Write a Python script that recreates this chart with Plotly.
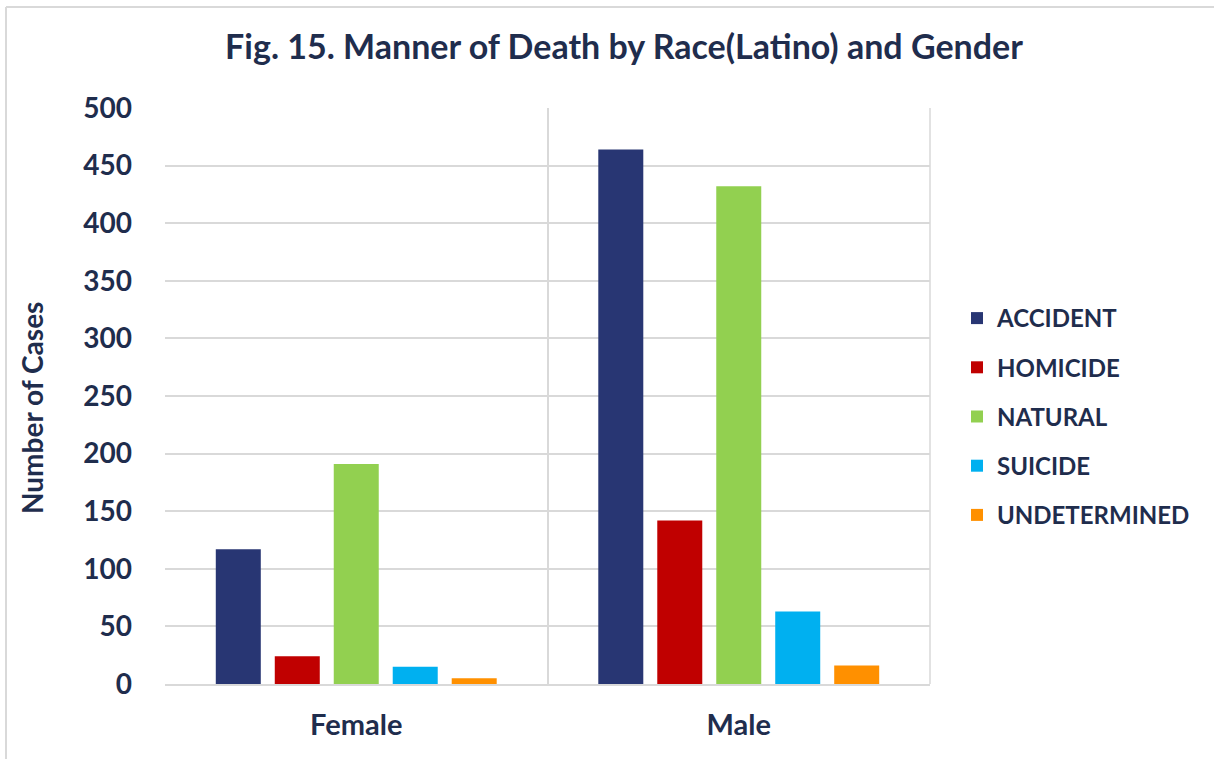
import plotly.graph_objects as go

categories = ["Female", "Male"]
series_names = ["ACCIDENT", "HOMICIDE", "NATURAL", "SUICIDE", "UNDETERMINED"]
accident = [117, 464]
homicide = [24, 142]
natural = [191, 432]
suicide = [15, 63]
undetermined = [5, 16]
y_ticks = [0, 50, 100, 150, 200, 250, 300, 350, 400, 450, 500]

colors = ["#283673", "#C00000", "#92D050", "#00B0F0", "#FF9000"]
series_values = [accident, homicide, natural, suicide, undetermined]

TXT = "#1F2D4D"
FONT = "Lato"

fig = go.Figure()
for name, vals, col in zip(series_names, series_values, colors):
    fig.add_trace(go.Bar(x=categories, y=vals, name=name, marker_color=col,
                         marker_line_width=0, legendgroup=name))

W, H = 1214, 759
L, R, T, B = 165, 284, 108, 75
pw, ph = W - L - R, H - T - B

def px_to_paper_x(x):
    return (x - L) / pw

def px_to_paper_y(y):
    return 1 - (y - T) / ph

fig.update_layout(
    width=W, height=H,
    margin=dict(l=L, r=R, t=T, b=B),
    paper_bgcolor="white", plot_bgcolor="white",
    barmode="group", bargap=0.229, bargroupgap=0.237,
    title=dict(text="Fig. 15. Manner of Death by Race(Latino) and Gender",
               x=px_to_paper_x(624), xref="paper", xanchor="center",
               y=1 - 47 / H, yanchor="middle",
               font=dict(family=FONT, size=34, color=TXT, weight="bold")),
    font=dict(family=FONT, color=TXT),
    legend=dict(x=px_to_paper_x(957), y=px_to_paper_y(296), xanchor="left", yanchor="top",
                font=dict(family=FONT, size=24, color=TXT, weight="bold"), itemwidth=30,
                tracegroupgap=15, traceorder="grouped"),
    showlegend=True,
    xaxis=dict(type="category", tickson="boundaries", showgrid=True, gridcolor="#D9D9D9",
               gridwidth=1.5, ticks="", showline=True, linecolor="#D9D9D9", linewidth=1.5,
               tickfont=dict(family=FONT, size=29, color=TXT, weight="bold"),
               ticklabelstandoff=14),
    yaxis=dict(range=[0, 500], tickvals=y_ticks, showgrid=True, gridcolor="#D9D9D9",
               gridwidth=1.5, zeroline=False, ticks="", showline=False,
               tickfont=dict(family=FONT, size=28, color=TXT, weight="bold"),
               ticklabelstandoff=32),
)

fig.add_annotation(text="Number of Cases", textangle=-90, xref="paper", yref="paper",
                   x=px_to_paper_x(32), y=px_to_paper_y(408), xanchor="center", yanchor="middle",
                   showarrow=False, font=dict(family=FONT, size=28, color=TXT, weight="bold"))

# outer frame lines (top and left)
fig.add_shape(type="line", xref="paper", yref="paper",
              x0=px_to_paper_x(6), x1=px_to_paper_x(W + 5), y0=px_to_paper_y(7), y1=px_to_paper_y(7),
              line=dict(color="#D9D9D9", width=2))
fig.add_shape(type="line", xref="paper", yref="paper",
              x0=px_to_paper_x(6), x1=px_to_paper_x(6), y0=px_to_paper_y(7), y1=px_to_paper_y(H + 5),
              line=dict(color="#D9D9D9", width=2))
# right border of plot area
fig.add_shape(type="line", xref="paper", yref="paper", x0=1, x1=1, y0=0, y1=1,
              line=dict(color="#D9D9D9", width=1.5))

fig.write_html("out.html", config={"displayModeBar": False},
               post_script="document.body.style.margin='0px';")
